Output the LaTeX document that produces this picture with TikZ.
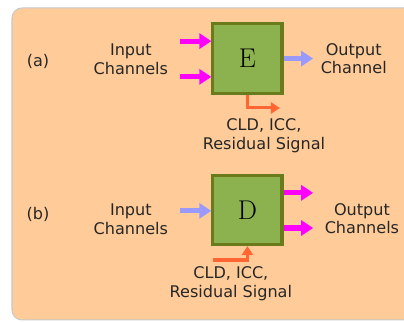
\documentclass[tikz,border=0pt]{standalone}
\usepackage{xcolor}
\usepackage{tikz}
\usetikzlibrary{arrows.meta}
\usepackage{fontspec}
\newfontfamily\labelfont{DejaVu Sans}
\definecolor{mcpeach}{HTML}{FFCC99}
\definecolor{mcframe}{HTML}{C8C8C8}
\definecolor{mcgreen}{HTML}{8BB24E}
\definecolor{mcolive}{HTML}{6B7B1B}
\definecolor{mcmagenta}{HTML}{FF00FF}
\definecolor{mclilac}{HTML}{9999FF}
\definecolor{mcorange}{HTML}{FF6633}
\definecolor{mctext}{HTML}{262626}
\tikzset{
  codec/.style={draw=mcolive,fill=mcgreen,line width=3pt,minimum size=2.42cm,inner sep=0pt,
    font=\fontsize{27}{31}\selectfont},
  lbl/.style={text=mctext,align=center,inner sep=0pt,font=\labelfont\fontsize{16}{18.5}\selectfont},
  chan/.style={line width=5pt,-{Triangle[length=12pt,width=15pt]}},
  side/.style={mcorange,line width=3pt,-{Triangle[length=9pt,width=11pt]}}
}

\begin{document}
\begin{tikzpicture}[x=1cm,y=1cm]
  \useasboundingbox (0,0) rectangle (14.14,11.27);
  \filldraw[fill=mcpeach,draw=mcframe,line width=1pt,rounded corners=0.35cm] (0.42,0.07) rectangle (14.8,10.99);

  % (a) encoder
  \node[codec] (E) at (8.66,9.22) {E};
  \node[lbl] (tagA) at (1.33,9.12) {(a)};
  \node[lbl] (inA) at (4.58,9.2) {Input\\Channels};
  \node[lbl,anchor=west] (outA) at (11.22,9.22) {Output\\Channel};
  \node[lbl] (parA) at (9.24,6.53) {CLD, ICC,\\Residual Signal};
  \coordinate (inA1) at (6.3,9.83);
  \coordinate (inA2) at (6.3,8.58);
  \coordinate (outA1) at (10.96,9.22);
  \coordinate (sideA) at (9.8,7.49);
  \draw[chan,mcmagenta] (inA1) -- (inA1 -| E.west);
  \draw[chan,mcmagenta] (inA2) -- (inA2 -| E.west);
  \draw[chan,mclilac] (E.east) -- (outA1);
  \draw[side] (E.south) |- (sideA);

  % (b) decoder
  \node[codec] (D) at (8.66,3.92) {D};
  \node[lbl] (tagB) at (1.33,3.76) {(b)};
  \node[lbl] (inB) at (4.58,3.6) {Input\\Channels};
  \node[lbl,anchor=west] (outB) at (11.36,3.62) {Output\\Channels};
  \node[lbl] (parB) at (8.08,1.33) {CLD, ICC,\\Residual Signal};
  \coordinate (inB1) at (6.3,3.89);
  \coordinate (outB1) at (10.96,4.52);
  \coordinate (outB2) at (10.96,3.29);
  \coordinate (sideB) at (7.45,2.17);
  \draw[chan,mclilac] (inB1) -- (inB1 -| D.west);
  \draw[chan,mcmagenta] (outB1 -| D.east) -- (outB1);
  \draw[chan,mcmagenta] (outB2 -| D.east) -- (outB2);
  \draw[side] (sideB) -| (D.south);
\end{tikzpicture}
\end{document}
